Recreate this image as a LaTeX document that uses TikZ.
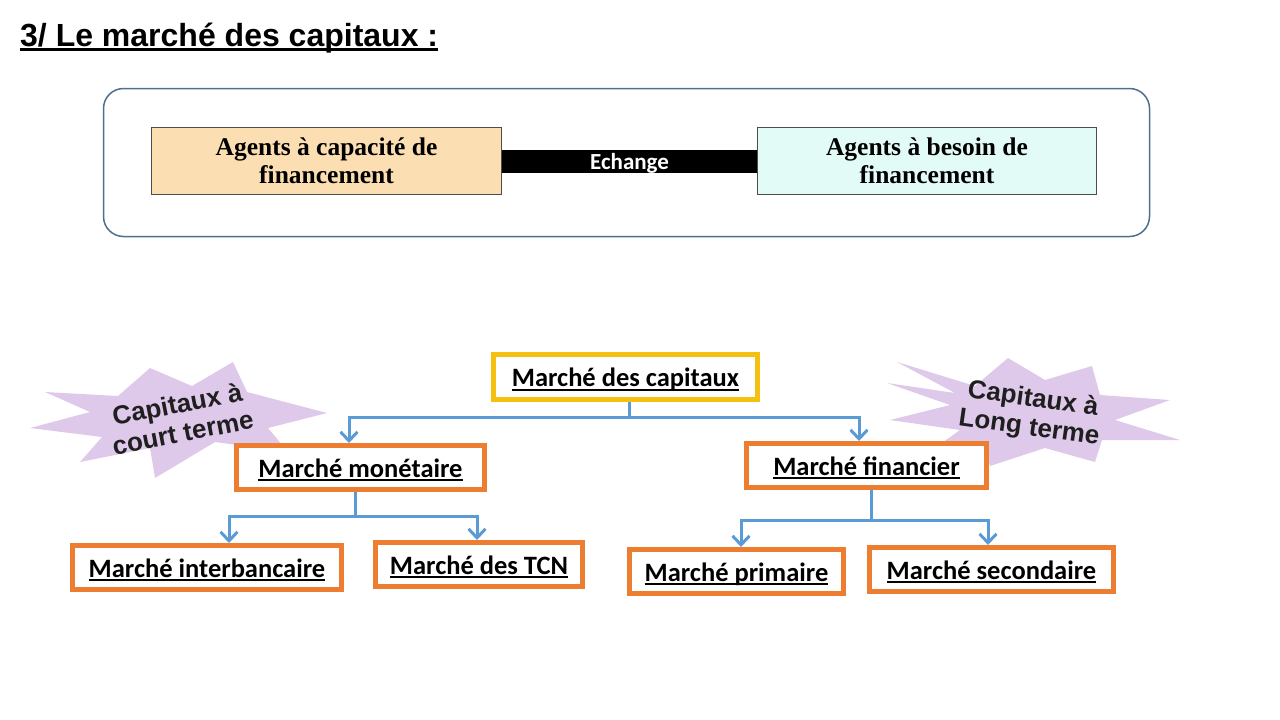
\documentclass[tikz,border=0pt]{standalone}
\usepackage{fontspec}
\usetikzlibrary{arrows.meta}
\newfontfamily\arialf{Liberation Sans}
\newfontfamily\calibrif{Carlito}
\newfontfamily\cambriaf{Liberation Serif}
\definecolor{orangeline}{HTML}{ED7D31}
\definecolor{yellowline}{HTML}{F5C111}
\definecolor{blueline}{HTML}{5B9BD5}
\definecolor{framecol}{HTML}{4F6F8F}
\definecolor{peach}{HTML}{FBDFB2}
\definecolor{aqua}{HTML}{E2FBF7}
\definecolor{burstpink}{HTML}{DFC9EA}
% underline: depth, thickness, text
\newsavebox\ulbox
\newcommand\uln[3]{\sbox\ulbox{#3}\usebox\ulbox\llap{\rule[-#1]{\wd\ulbox}{#2}}}
\newcommand\ulm[1]{\uln{4pt}{2pt}{#1}}

\begin{document}
\begin{tikzpicture}[x=1pt,y=-1pt,
  market/.style={draw=orangeline,line width=5pt,fill=white,minimum height=44pt,inner sep=0pt,
    text height=24pt,text depth=5pt,font=\calibrif\bfseries\fontsize{26.5}{30}\selectfont},
  agent/.style={draw=black!70,line width=1pt,minimum height=67pt,align=center,inner sep=0pt,
    font=\cambriaf\bfseries\fontsize{25.5}{28}\selectfont},
  link/.style={draw=blueline,line width=3pt},
  arr/.style={link,-{Straight Barb[length=9pt,width=17pt]}},
  burst/.style={fill=burstpink},
  bursttext/.style={font=\arialf\bfseries\fontsize{26}{29}\selectfont,align=center,text=black!88,inner sep=0pt}]

\useasboundingbox (0,0) rectangle (1280,720);

% title
\node[anchor=base west,inner sep=0pt,font=\arialf\bfseries\fontsize{32}{36}\selectfont] (title) at (20,46)
  {\uln{5pt}{2.8pt}{3/ Le marché des capitaux :}};

% agents
\node[draw=framecol,line width=1.5pt,rounded corners=20pt,minimum width=1046pt,minimum height=148pt] (zone) at (626.5,162.5) {};
\node[agent,fill=peach,minimum width=350pt] (ca) at (326.5,160.5) {Agents à capacité de\\financement};
\node[agent,fill=aqua,minimum width=339pt] (bf) at (927,160.5) {Agents à besoin de\\financement};
\draw[line width=23pt] ([yshift=-1pt]ca.east) -- ([yshift=-1pt]bf.west)
  node[midway,yshift=-2pt,text=white,font=\calibrif\bfseries\fontsize{23}{26}\selectfont] (ech) {Echange};

% bursts
\fill[burst] (233,362) -- (247,392) -- (327,413) -- (268,428) -- (288,452) -- (215,442) -- (155,478)
  -- (150,448) -- (80,462) -- (102,437) -- (30,428) -- (90,412) -- (45,392) -- (118,396)
  -- (150,368) -- (192,386) -- cycle;
\node[bursttext,rotate=11] (court) at (180,418) {Capitaux à\\court terme};
\fill[burst] (897,362) -- (975,386) -- (1008,358) -- (1045,380) -- (1092,366) -- (1100,395)
  -- (1170,400) -- (1115,420) -- (1180,440) -- (1102,440) -- (1095,462) -- (1045,448)
  -- (990,466) -- (985,445) -- (925,455) -- (960,430) -- (890,420) -- (950,405) -- (887,383)
  -- (955,393) -- cycle;
\node[bursttext,rotate=-8] (long) at (1031,414) {Capitaux à\\Long terme};

% tree
\node[market,draw=yellowline,minimum width=264pt,minimum height=45pt] (cap) at (625.5,377) {\ulm{Marché des capitaux}};
\node[market,minimum width=248pt] (mon) at (360.5,467.5) {\ulm{Marché monétaire}};
\node[market,minimum width=240pt] (fin) at (866.5,465.5) {\ulm{Marché financier}};
\node[market,minimum width=269pt] (inter) at (207,567.5) {\ulm{Marché interbancaire}};
\node[market,minimum width=207pt] (tcn) at (479,564.5) {\ulm{Marché des TCN}};
\node[market,minimum width=214pt] (prim) at (736.5,571.5) {\ulm{Marché primaire}};
\node[market,minimum width=244pt] (sec) at (991.5,569.5) {\ulm{Marché secondaire}};

\coordinate (j1) at (629,417);
\coordinate (j2) at (355,516);
\coordinate (j3) at (871,520);
\draw[link] (cap.south -| j1) -- (j1);
\draw[arr] (j1) -| ([xshift=-11.5pt]mon.north);
\draw[arr] (j1) -| ([xshift=-7.5pt]fin.north);
\draw[link] (mon.south -| j2) -- (j2);
\draw[arr] (j2) -| ([xshift=22pt]inter.north);
\draw[arr] (j2) -| ([xshift=-2pt]tcn.north);
\draw[link] (fin.south -| j3) -- (j3);
\draw[arr] (j3) -| ([xshift=4.5pt]prim.north);
\draw[arr] (j3) -| ([xshift=-3.5pt]sec.north);
\end{tikzpicture}
\end{document}
